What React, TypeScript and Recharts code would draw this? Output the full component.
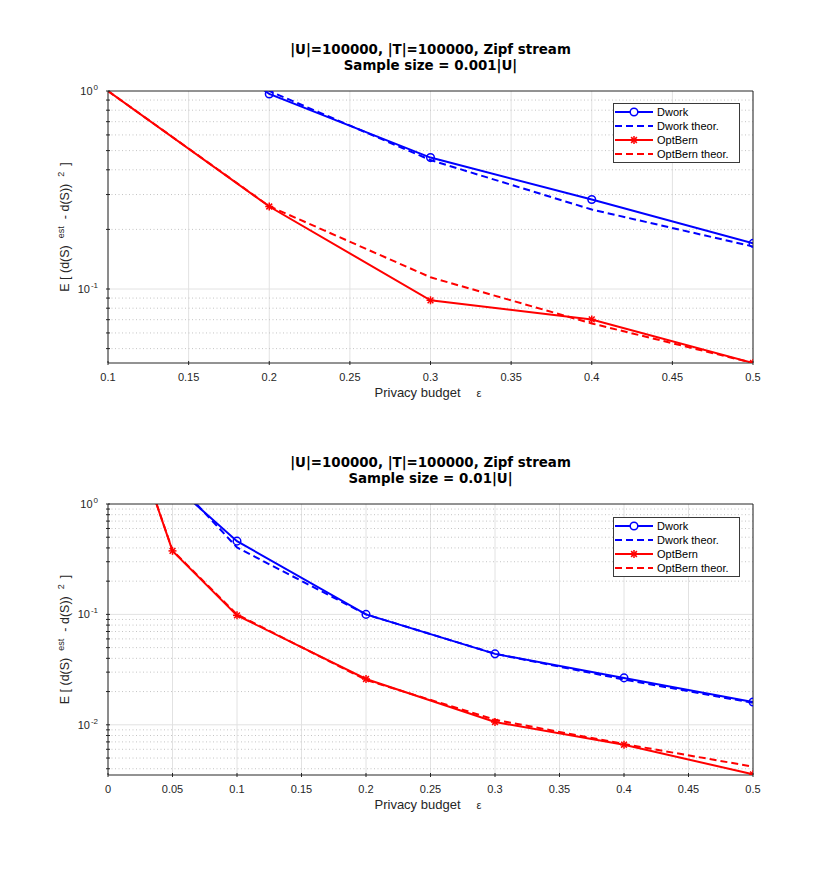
import { CartesianGrid, Label, Legend, Line, LineChart, ReferenceLine, XAxis, YAxis } from "recharts"

// top panel, sample size 0.001|U|
const epsTop = [0.1, 0.2, 0.3, 0.4, 0.5]
const dworkTop = [3.9, 0.966, 0.461, 0.283, 0.17]
const dworkTheorTop = [4.0, 1.0, 0.448, 0.252, 0.164]
const optBernTop = [1.0, 0.261, 0.0877, 0.0702, 0.0423]
const optBernTheorTop = [1.0, 0.262, 0.1146, 0.067, 0.0423]

// bottom panel, sample size 0.01|U|
const epsBottom = [0.01, 0.05, 0.1, 0.2, 0.3, 0.4, 0.5]
const dworkBottom = [45, 1.52, 0.461, 0.1, 0.0439, 0.0266, 0.0161]
const dworkTheorBottom = [42, 1.71, 0.404, 0.1, 0.044, 0.0257, 0.0158]
const optBernBottom = [8.8, 0.376, 0.098, 0.026, 0.0106, 0.0066, 0.00356]
const optBernTheorBottom = [8.8, 0.38, 0.1, 0.0255, 0.0111, 0.0067, 0.00418]

const xTicksTop = [0.1, 0.15, 0.2, 0.25, 0.3, 0.35, 0.4, 0.45, 0.5]
const xTicksBottom = [0, 0.05, 0.1, 0.15, 0.2, 0.25, 0.3, 0.35, 0.4, 0.45, 0.5]
const yMajorTop = [0.1, 1]
const yMinorTop = [0.05, 0.06, 0.07, 0.08, 0.09, 0.2, 0.3, 0.4, 0.5, 0.6, 0.7, 0.8, 0.9]
const yMajorBottom = [0.01, 0.1, 1]
const yMinorBottom = [
  0.004, 0.005, 0.006, 0.007, 0.008, 0.009,
  0.02, 0.03, 0.04, 0.05, 0.06, 0.07, 0.08, 0.09,
  0.2, 0.3, 0.4, 0.5, 0.6, 0.7, 0.8, 0.9,
]

const FONT = '"Liberation Sans", Arial, Helvetica, sans-serif'
const TITLE_FONT = '"DejaVu Sans", "Liberation Sans", sans-serif'
const AXIS = "#262626"
const GRID = "#e2e2e2"
const MINOR = "#c4c4c4"
const BLUE = "#0000ff"
const RED = "#ff0000"

const buildRows = (eps: number[], d: number[], dt: number[], o: number[], ot: number[]) =>
  eps.map((e, i) => ({ eps: e, dwork: d[i], dworkTheor: dt[i], optBern: o[i], optBernTheor: ot[i] }))

const rowsTop = buildRows(epsTop, dworkTop, dworkTheorTop, optBernTop, optBernTheorTop)
const rowsBottom = buildRows(epsBottom, dworkBottom, dworkTheorBottom, optBernBottom, optBernTheorBottom)

function Star({ cx, cy }: { cx: number; cy: number }) {
  const r = 4
  const d = r * 0.72
  return (
    <g stroke={RED} strokeWidth={1.5}>
      <line x1={cx - r} x2={cx + r} y1={cy} y2={cy} />
      <line x1={cx} x2={cx} y1={cy - r} y2={cy + r} />
      <line x1={cx - d} x2={cx + d} y1={cy - d} y2={cy + d} />
      <line x1={cx - d} x2={cx + d} y1={cy + d} y2={cy - d} />
    </g>
  )
}

const circleDot = (limit: number) => (props: any) => {
  const { cx, cy, value, index } = props
  if (cx == null || cy == null || value >= limit) return <g key={`c-${index}`} />
  return <circle key={`c-${index}`} cx={cx} cy={cy} r={3.8} fill="none" stroke={BLUE} strokeWidth={1.5} />
}

const starDot = (limit: number) => (props: any) => {
  const { cx, cy, value, index } = props
  if (cx == null || cy == null || value >= limit) return <g key={`s-${index}`} />
  return <Star key={`s-${index}`} cx={cx} cy={cy} />
}

function XTick({ x, y, payload }: any) {
  return (
    <g>
      <line x1={x} x2={x} y1={y} y2={y - 4} stroke={AXIS} />
      <text x={x} y={y + 15.5} textAnchor="middle" fontSize={11} fill={AXIS} fontFamily={FONT}>
        {String(payload.value)}
      </text>
    </g>
  )
}

function YTick({ x, y, payload }: any) {
  const lg = Math.log10(payload.value)
  const major = Math.abs(lg - Math.round(lg)) < 1e-9
  return (
    <g>
      <line x1={x} x2={x + 4} y1={y} y2={y} stroke={AXIS} />
      {major && (
        <text x={x - 8} y={y + 4} textAnchor="end" fontSize={11} fill={AXIS} fontFamily={FONT}>
          10
          <tspan dy={-5} dx={1} fontSize={8}>
            {String(Math.round(lg))}
          </tspan>
        </text>
      )}
    </g>
  )
}

function Title({ viewBox, subtitle }: any) {
  const cx = viewBox.x + viewBox.width / 2
  const top = viewBox.y + viewBox.height
  return (
    <text textAnchor="middle" fontSize={13.4} fontWeight="bold" fill="#000" fontFamily={TITLE_FONT}>
      <tspan x={cx} y={top - 38}>
        |U|=100000, |T|=100000, Zipf stream
      </tspan>
      <tspan x={cx} y={top - 22}>
        {subtitle}
      </tspan>
    </text>
  )
}

function XLabel({ viewBox }: any) {
  const cx = viewBox.x + viewBox.width / 2
  return (
    <text x={cx - 56} y={viewBox.y + 34} fontSize={13} fill={AXIS} fontFamily={FONT}>
      Privacy budget
      <tspan dx={16} fontSize={11}>
        ε
      </tspan>
    </text>
  )
}

function YLabel({ viewBox }: any) {
  const cx = viewBox.x + viewBox.width - 39.5
  const cy = viewBox.y + viewBox.height / 2
  return (
    <text
      x={cx}
      y={cy}
      transform={`rotate(-90 ${cx} ${cy})`}
      textAnchor="middle"
      fontSize={12.5}
      fill={AXIS}
      fontFamily={FONT}
    >
      E [ (d(S)
      <tspan dx={7} dy={-5} fontSize={9}>
        est
      </tspan>
      <tspan dx={7} dy={5}>
        - d(S))
      </tspan>
      <tspan dx={7} dy={-5} fontSize={9}>
        2
      </tspan>
      <tspan dx={6} dy={5}>
        ]
      </tspan>
    </text>
  )
}

function LegendBox({ payload }: any) {
  return (
    <div
      style={{
        width: 125,
        border: "1px solid #3a3a3a",
        background: "#fff",
        padding: "1px 0",
        fontFamily: FONT,
        fontSize: 11,
        color: "#000",
      }}
    >
      {(payload || []).map((entry: any) => {
        const key = entry.dataKey
        const dashed = key === "dworkTheor" || key === "optBernTheor"
        return (
          <div key={key} style={{ display: "flex", alignItems: "center", height: 14 }}>
            <svg width={40} height={14} style={{ display: "block" }}>
              <line
                x1={1}
                x2={39}
                y1={7}
                y2={7}
                stroke={entry.color}
                strokeWidth={2}
                strokeDasharray={dashed ? "7 4" : undefined}
              />
              {key === "dwork" && <circle cx={20} cy={7} r={3.8} fill="#fff" stroke={BLUE} strokeWidth={1.5} />}
              {key === "optBern" && <Star cx={20} cy={7} />}
            </svg>
            <span style={{ marginLeft: 3, whiteSpace: "nowrap" }}>{entry.value}</span>
          </div>
        )
      })}
    </div>
  )
}

type PanelProps = {
  rows: any[]
  xTicks: number[]
  yMajor: number[]
  yMinor: number[]
  yDomain: [number, number]
  subtitle: string
  top: number
  height: number
  margin: { top: number; right: number; bottom: number; left: number }
  legendTop: number
}

function Panel({ rows, xTicks, yMajor, yMinor, yDomain, subtitle, top, height, margin, legendTop }: PanelProps) {
  const xDomain = [xTicks[0], xTicks[xTicks.length - 1]]
  const yTicks = [...yMinor, ...yMajor].sort((a, b) => a - b)
  const limit = yDomain[1]
  return (
    <div style={{ position: "absolute", left: 0, top }}>
      <LineChart width={830} height={height} data={rows} margin={margin}>
        <CartesianGrid horizontal={false} stroke={GRID} />
        {yMinor.map((v) => (
          <ReferenceLine key={`m-${v}`} y={v} stroke={MINOR} strokeDasharray="1 2.5" />
        ))}
        {yMajor
          .filter((v) => v < limit)
          .map((v) => (
            <ReferenceLine key={`M-${v}`} y={v} stroke={GRID} />
          ))}
        <XAxis
          dataKey="eps"
          type="number"
          domain={xDomain}
          ticks={xTicks}
          interval={0}
          allowDataOverflow
          height={1}
          tickSize={0}
          tickLine={false}
          tick={XTick}
          stroke={AXIS}
        >
          <Label content={XLabel} />
        </XAxis>
        <XAxis
          xAxisId="top"
          orientation="top"
          type="number"
          domain={xDomain}
          ticks={xTicks}
          interval={0}
          allowDataOverflow
          mirror
          height={1}
          tickSize={4}
          tick={false}
          stroke={AXIS}
        >
          <Label content={(p: any) => <Title viewBox={p.viewBox} subtitle={subtitle} />} />
        </XAxis>
        <YAxis
          type="number"
          scale="log"
          domain={yDomain}
          ticks={yTicks}
          interval={0}
          allowDataOverflow
          width={1}
          tickSize={0}
          tickLine={false}
          tick={YTick}
          stroke={AXIS}
        >
          <Label content={YLabel} />
        </YAxis>
        <YAxis
          yAxisId="right"
          orientation="right"
          type="number"
          scale="log"
          domain={yDomain}
          ticks={yTicks}
          interval={0}
          allowDataOverflow
          mirror
          width={1}
          tickSize={4}
          tick={false}
          stroke={AXIS}
        />
        <Legend
          layout="horizontal"
          align="center"
          verticalAlign="middle"
          content={LegendBox}
          wrapperStyle={{ left: 613, top: legendTop, width: 127 }}
        />
        <Line
          name="Dwork"
          dataKey="dwork"
          stroke={BLUE}
          strokeWidth={2}
          dot={circleDot(limit)}
          activeDot={false}
          isAnimationActive={false}
        />
        <Line
          name="Dwork theor."
          dataKey="dworkTheor"
          stroke={BLUE}
          strokeWidth={2}
          strokeDasharray="7 4"
          dot={false}
          activeDot={false}
          isAnimationActive={false}
        />
        <Line
          name="OptBern"
          dataKey="optBern"
          stroke={RED}
          strokeWidth={2}
          dot={starDot(limit)}
          activeDot={false}
          isAnimationActive={false}
        />
        <Line
          name="OptBern theor."
          dataKey="optBernTheor"
          stroke={RED}
          strokeWidth={2}
          strokeDasharray="7 4"
          dot={false}
          activeDot={false}
          isAnimationActive={false}
        />
      </LineChart>
    </div>
  )
}

export default function App() {
  return (
    <div style={{ position: "absolute", left: 0, top: 0, width: 830, height: 871, background: "#fff", fontFamily: FONT }}>
      <Panel
        rows={rowsTop}
        xTicks={xTicksTop}
        yMajor={yMajorTop}
        yMinor={yMinorTop}
        yDomain={[0.0423, 1]}
        subtitle="Sample size = 0.001|U|"
        top={0}
        height={430}
        margin={{ top: 91, right: 77, bottom: 66, left: 107 }}
        legendTop={103}
      />
      <Panel
        rows={rowsBottom}
        xTicks={xTicksBottom}
        yMajor={yMajorBottom}
        yMinor={yMinorBottom}
        yDomain={[0.00351, 1]}
        subtitle="Sample size = 0.01|U|"
        top={430}
        height={441}
        margin={{ top: 74, right: 77, bottom: 95, left: 107 }}
        legendTop={87}
      />
    </div>
  )
}
